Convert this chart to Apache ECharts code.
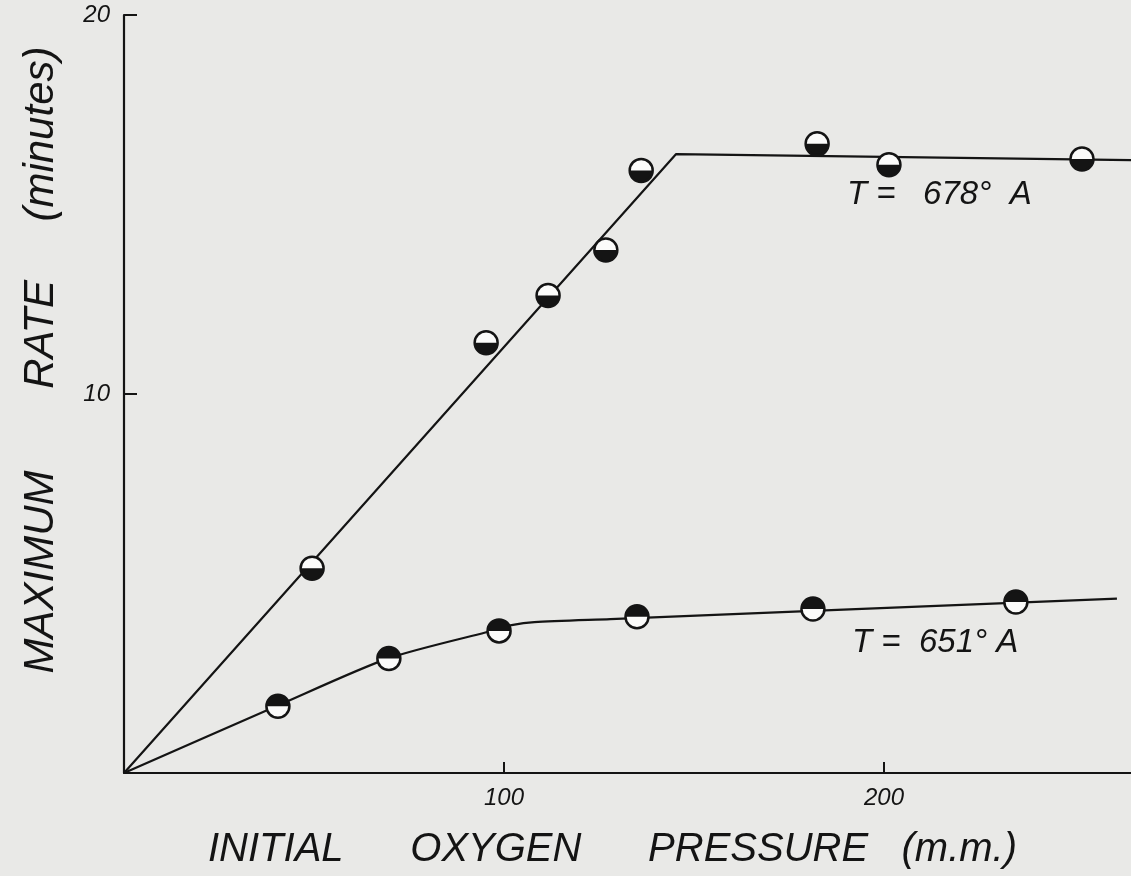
<!DOCTYPE html>
<html>
<head>
<meta charset="utf-8">
<script src="https://cdn.jsdelivr.net/npm/echarts@6/dist/echarts.min.js"></script>
<style>
html,body{margin:0;padding:0;background:#e9e9e7;}
#chart{width:1131px;height:876px;}
</style>
</head>
<body>
<div id="chart"></div>
<script>
// Measured points, T = 678° A (x: initial O2 pressure mm, y: max rate minutes)
const pts678 = [[49.5,5.4],[95.3,11.35],[111.6,12.6],[126.8,13.8],[136.1,15.9],[182.4,16.6],[201.3,16.05],[252.1,16.2]];
// Fitted line, T = 678° A
const fit678 = [[0,0],[145.3,16.33],[265,16.17]];
// Measured points, T = 651° A
const pts651 = [[40.5,1.76],[69.7,3.02],[98.7,3.75],[135,4.12],[181.3,4.33],[234.7,4.51]];
// Fitted curve, T = 651° A
const fit651 = [[0,0],[40.5,1.78],[69.7,3.03],[98.7,3.8],[102,3.9],[108,3.98],[128,4.06],[261.3,4.6]];
const xTicks = [100,200];
const yTicks = [10,20];
const xTitle = 'INITIAL      OXYGEN      PRESSURE   (m.m.)';
const yTitle = 'MAXIMUM       RATE     (minutes)';
const label678 = 'T =   678°  A';
const label651 = 'T =  651° A';

const INK = '#141414';
const FONT = '"Liberation Sans", "DejaVu Sans", sans-serif';

function halfMarker(topFilled){
  return function(params, api){
    const p = api.coord([api.value(0), api.value(1)]);
    const r = 11.5;
    return {
      type:'group',
      children:[
        {type:'circle', shape:{cx:p[0], cy:p[1], r:r}, style:{fill:'#fbfbfa'}},
        {type:'sector', shape:{cx:p[0], cy:p[1], r:r, r0:0,
          startAngle: topFilled ? Math.PI : 0,
          endAngle: topFilled ? 2*Math.PI : Math.PI, clockwise:true},
          style:{fill:INK}},
        {type:'circle', shape:{cx:p[0], cy:p[1], r:r}, style:{fill:null, stroke:INK, lineWidth:2.5}}
      ]
    };
  };
}

const chart = echarts.init(document.getElementById('chart'));
chart.setOption({
  backgroundColor:'#e9e9e7',
  animation:false,
  grid:{left:124, right:0, top:15, bottom:103, containLabel:false},
  xAxis:{
    type:'value', min:0, max:265, interval:100,
    axisLine:{show:true, onZero:false, lineStyle:{color:INK, width:2.2}},
    axisTick:{show:true, inside:true, length:11, lineStyle:{color:INK, width:2},
      customValues: xTicks},
    axisLabel:{show:true, margin:13, fontFamily:FONT, fontStyle:'italic', fontSize:24, color:INK,
      customValues: xTicks},
    splitLine:{show:false},
    name: xTitle, nameLocation:'middle', nameGap:57,
    nameTextStyle:{fontFamily:FONT, fontStyle:'italic', fontSize:40, color:INK, padding:[0,30,0,0]}
  },
  yAxis:{
    type:'value', min:0, max:20, interval:10,
    axisLine:{show:true, onZero:false, lineStyle:{color:INK, width:2.2}},
    axisTick:{show:true, inside:true, length:13, lineStyle:{color:INK, width:2},
      customValues: yTicks},
    axisLabel:{show:true, margin:14, fontFamily:FONT, fontStyle:'italic', fontSize:24, color:INK,
      customValues: yTicks},
    splitLine:{show:false},
    name: yTitle, nameLocation:'middle', nameGap:62, nameRotate:90,
    nameTextStyle:{fontFamily:FONT, fontStyle:'italic', fontSize:42, color:INK, padding:[0,0,0,68]}
  },
  graphic:[
    {type:'text', left:847, top:178, style:{text:label678, fontFamily:FONT, fontStyle:'italic', fontSize:33, fill:INK}},
    {type:'text', left:852, top:626, style:{text:label651, fontFamily:FONT, fontStyle:'italic', fontSize:33, fill:INK}}
  ],
  series:[
    {name:'fit 678', type:'line', data:fit678, symbol:'none', lineStyle:{color:INK, width:2.2}, z:2},
    {name:'fit 651', type:'line', data:fit651, symbol:'none', smooth:0.25, lineStyle:{color:INK, width:2.2}, z:2},
    {name:'T = 678° A', type:'custom', data:pts678, renderItem:halfMarker(false), z:5},
    {name:'T = 651° A', type:'custom', data:pts651, renderItem:halfMarker(true), z:5}
  ]
});
</script>
</body>
</html>
